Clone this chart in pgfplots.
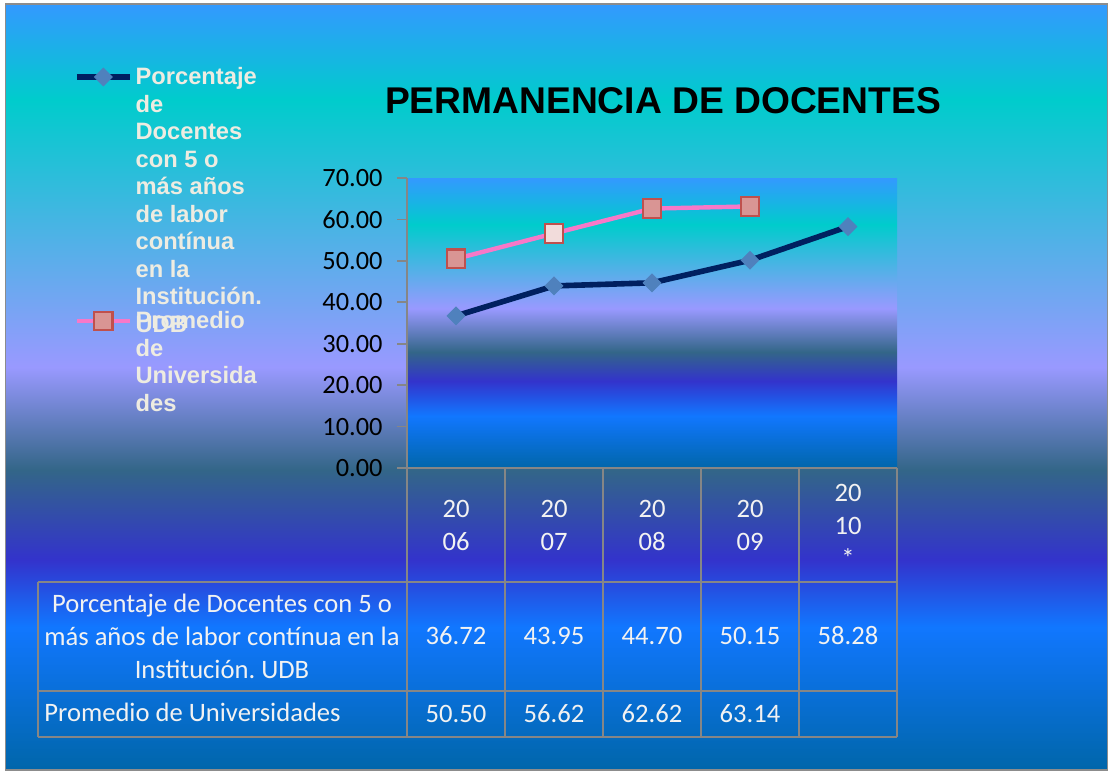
\documentclass[border=0pt]{standalone}
\usepackage{pgfplots}
\pgfplotsset{compat=1.18}
\usepackage{fontspec}
\setmainfont{Carlito}
\newfontfamily\arialfont{Liberation Sans}

\definecolor{cTop}{RGB}{51,153,255}
\definecolor{cCyan}{RGB}{0,204,204}
\definecolor{cLav}{RGB}{153,153,255}
\definecolor{cTeal}{RGB}{51,102,136}
\definecolor{cPurp}{RGB}{51,51,204}
\definecolor{cBright}{RGB}{17,119,255}
\definecolor{cBot}{RGB}{0,102,170}
\definecolor{framegray}{RGB}{140,140,140}
\definecolor{linegray}{RGB}{134,134,134}
\definecolor{navyline}{RGB}{0,32,96}
\definecolor{diamondblue}{RGB}{79,129,189}
\definecolor{pinkline}{RGB}{247,120,200}
\definecolor{sqfill}{RGB}{217,149,148}
\definecolor{sqlight}{RGB}{242,220,219}
\definecolor{sqdraw}{RGB}{192,80,77}
\definecolor{legtext}{RGB}{238,236,225}
\definecolor{tabtext}{RGB}{242,242,242}

\pgfdeclareverticalshading{bgshade}{100bp}{color(0bp)=(cBot); color(25bp)=(cBot); color(34.35bp)=(cBright); color(38.7bp)=(cPurp); color(44.6bp)=(cTeal); color(51.3bp)=(cLav); color(68.75bp)=(cCyan); color(75bp)=(cTop); color(100bp)=(cTop)}
\pgfdeclareverticalshading{plotshade}{100bp}{color(0bp)=(cBot); color(25bp)=(cBot); color(34bp)=(cBright); color(40bp)=(cPurp); color(45bp)=(cTeal); color(52.5bp)=(cLav); color(67bp)=(cCyan); color(75bp)=(cTop); color(100bp)=(cTop)}

\newcommand{\legtxt}[1]{\raisebox{9pt}[10pt][5pt]{\parbox[t]{72pt}{\raggedright\arialfont\bfseries\fontsize{11.85}{13.75}\selectfont\color{legtext}#1}}}

\begin{document}
\begin{tikzpicture}
\begin{scope}[x=0.5pt,y=0.5pt]
\useasboundingbox (0,0) rectangle (1111,773);
\fill[white] (0,0) rectangle (1111,773);
\path[shading=bgshade, draw=framegray, line width=0.8pt] (5.5,3) rectangle (1107.5,769);
\node[font=\arialfont\bfseries\fontsize{18.6}{22}\selectfont, text=black] at (663,672) {PERMANENCIA DE DOCENTES};
\end{scope}

\begin{axis}[
  at={(203.5pt,152.5pt)}, anchor=south west,
  scale only axis, width=245pt, height=145pt,
  xmin=-0.5, xmax=4.5, ymin=0, ymax=70,
  ytick={0,10,...,70}, xtick=\empty,
  axis lines*=left,
  axis line style={-, draw=linegray, line width=0.9pt},
  axis background/.style={shading=plotshade},
  tick align=outside, major tick length=5pt,
  tick style={draw=linegray, line width=0.9pt},
  /pgf/number format/assume math mode=true,
  yticklabel style={/pgf/number format/.cd, fixed, fixed zerofill, precision=2, /tikz/.cd, font=\fontsize{13.2}{15}\selectfont, text=black, inner sep=0pt, xshift=-7pt},
  clip=false,
  legend style={at={(-0.6796,1.388)}, anchor=north west, draw=none, fill=none, inner sep=0pt, outer sep=0pt, row sep=110.5pt, column sep=1.5pt, nodes={inner sep=0pt}},
  legend cell align=left,
  legend image code/.code={\draw[#1, mark repeat=2, mark phase=2] plot coordinates {(0pt,0pt) (13.25pt,0pt) (26.5pt,0pt)};},
]
\addplot[draw=navyline, line width=2.8pt, mark=square*, mark size=3.1pt, mark options={rotate=45, fill=diamondblue, draw=diamondblue, line width=0.5pt, solid}]
  coordinates {(0,36.72) (1,43.95) (2,44.70) (3,50.15) (4,58.28)};
\addlegendentry{\legtxt{Porcentaje\\de\\Docentes\\con 5 o\\más años\\de labor\\contínua\\en la\\Institución.\\UDB}}
\addplot[draw=pinkline, line width=2.2pt, mark=square*, mark size=4.6pt, mark options={fill=sqfill, draw=sqdraw, line width=1.1pt, solid}]
  coordinates {(0,50.50) (1,56.62) (2,62.62) (3,63.14)};
\addlegendentry{\legtxt{Promedio\\de\\Universida\\des}}
\addplot[forget plot, only marks, mark=square*, mark size=4.6pt, mark options={fill=sqlight, draw=sqdraw, line width=1.1pt, solid}]
  coordinates {(1,56.62)};
\end{axis}

\begin{scope}[x=0.5pt,y=0.5pt]
\begin{scope}[draw=linegray, line width=0.9pt]
\draw (407,305) -- (897,305);
\draw (38,191) -- (897,191);
\draw (38,82) -- (897,82);
\draw (38,36) -- (897,36);
\draw (38,191) -- (38,36);
\foreach \x in {407,505,603,701,799,897} \draw (\x,305) -- (\x,36);
\end{scope}
\begin{scope}[every node/.style={text=tabtext, font=\fontsize{13.3}{16.5}\selectfont, align=center, inner sep=0pt}]
\node at (456,247.5) {20\\06};
\node at (554,247.5) {20\\07};
\node at (652,247.5) {20\\08};
\node at (750,247.5) {20\\09};
\node at (848,247.5) {20\\10\\*};
\node at (222,137) {Porcentaje de Docentes con 5 o\\más años de labor contínua en la\\Institución.\ UDB};
\node[anchor=west] at (44,61) {Promedio de Universidades};
\node at (456,137) {36.72};
\node at (554,137) {43.95};
\node at (652,137) {44.70};
\node at (750,137) {50.15};
\node at (848,137) {58.28};
\node at (456,59) {50.50};
\node at (554,59) {56.62};
\node at (652,59) {62.62};
\node at (750,59) {63.14};
\end{scope}
\end{scope}
\end{tikzpicture}
\end{document}
